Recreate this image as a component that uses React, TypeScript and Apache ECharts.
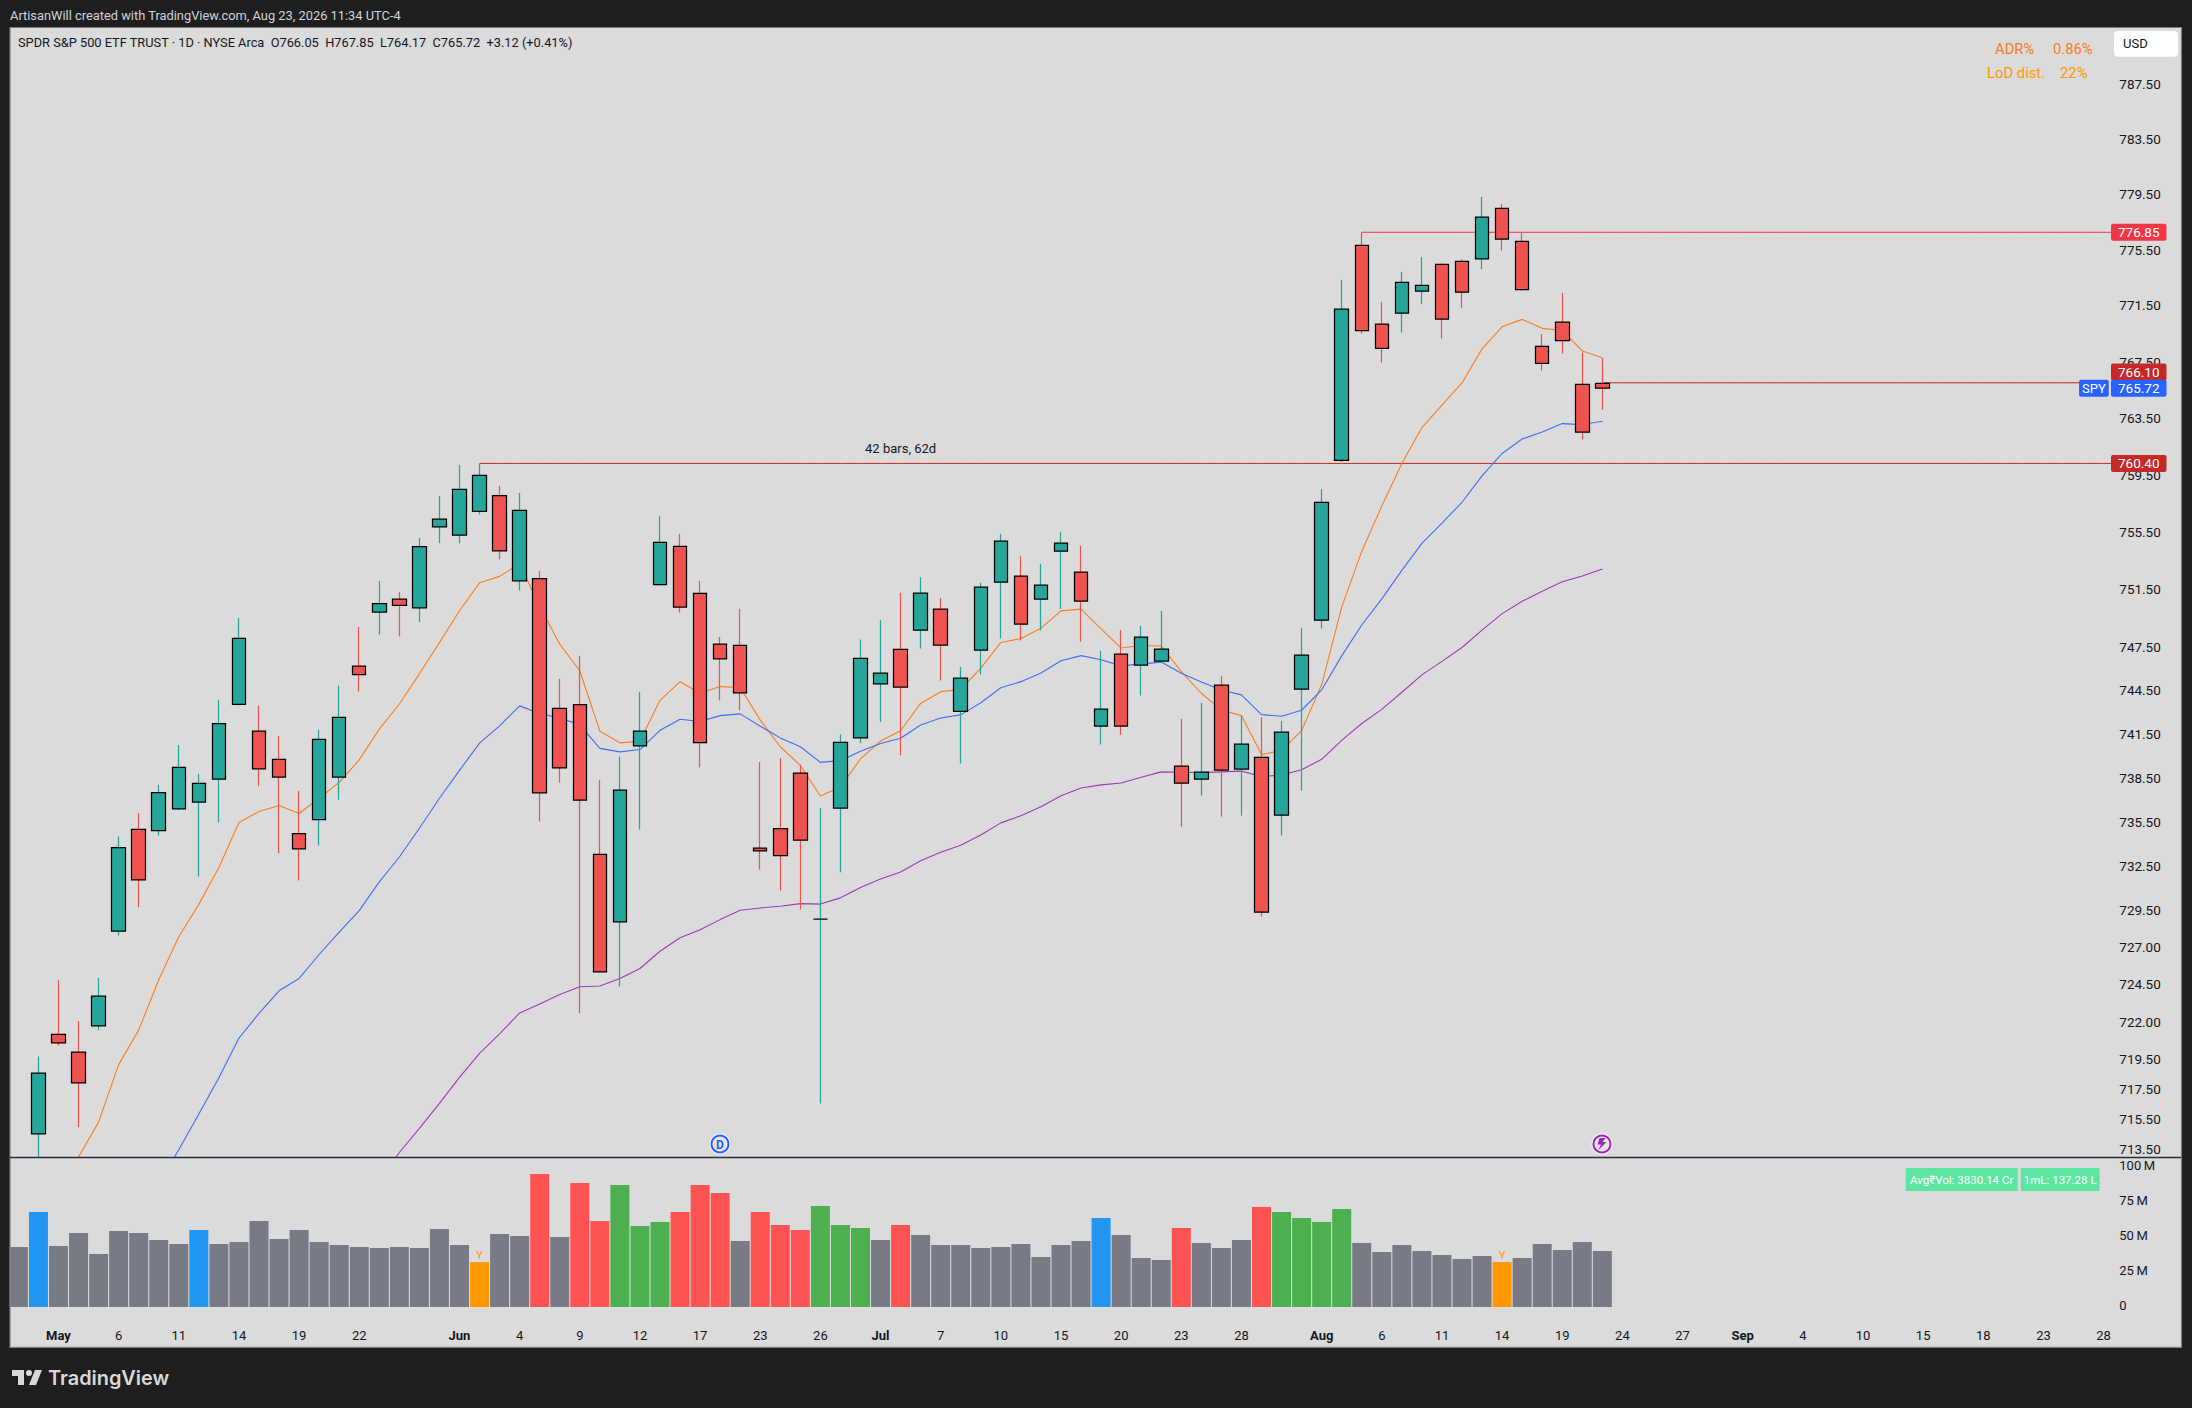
import React, { useEffect, useRef } from "react";
import * as echarts from "echarts";

const sessions = [
  "Apr 29","Apr 30","May 1","May 4","May 5","May 6","May 7","May 8","May 11","May 12","May 13","May 14","May 15","May 18","May 19","May 20","May 21","May 22","May 26","May 27","May 28","May 29",
  "Jun 1","Jun 2","Jun 3","Jun 4","Jun 5","Jun 8","Jun 9","Jun 10","Jun 11","Jun 12","Jun 15","Jun 16","Jun 17","Jun 18","Jun 22","Jun 23","Jun 24","Jun 25","Jun 26","Jun 29","Jun 30",
  "Jul 1","Jul 2","Jul 6","Jul 7","Jul 8","Jul 9","Jul 10","Jul 13","Jul 14","Jul 15","Jul 16","Jul 17","Jul 20","Jul 21","Jul 22","Jul 23","Jul 24","Jul 27","Jul 28","Jul 29","Jul 30","Jul 31",
  "Aug 3","Aug 4","Aug 5","Aug 6","Aug 7","Aug 10","Aug 11","Aug 12","Aug 13","Aug 14","Aug 17","Aug 18","Aug 19","Aug 20","Aug 21","Aug 24","Aug 25","Aug 26","Aug 27","Aug 28","Aug 31",
  "Sep 1","Sep 2","Sep 3","Sep 4","Sep 8","Sep 9","Sep 10","Sep 11","Sep 14","Sep 15","Sep 16","Sep 17","Sep 18","Sep 21","Sep 22","Sep 23","Sep 24","Sep 25","Sep 28","Sep 29","Sep 30","Oct 1",
];

const xTicks: Record<string, string> = {
  "May 1":"May","May 6":"6","May 11":"11","May 14":"14","May 19":"19","May 22":"22","Jun 1":"Jun","Jun 4":"4","Jun 9":"9","Jun 12":"12","Jun 17":"17","Jun 23":"23","Jun 26":"26",
  "Jul 1":"Jul","Jul 7":"7","Jul 10":"10","Jul 15":"15","Jul 20":"20","Jul 23":"23","Jul 28":"28","Aug 3":"Aug","Aug 6":"6","Aug 11":"11","Aug 14":"14","Aug 19":"19","Aug 24":"24","Aug 27":"27",
  "Sep 1":"Sep","Sep 4":"4","Sep 10":"10","Sep 15":"15","Sep 18":"18","Sep 23":"23","Sep 28":"28",
};
const monthTicks = ["May", "Jun", "Jul", "Aug", "Sep"];

const opens = [709.5,714.63,721.24,720.06,721.82,728.17,735.07,734.98,736.47,736.93,738.49,743.62,741.78,739.84,734.78,735.73,738.63,746.26,750.01,750.90,750.30,755.94,755.37,757.04,758.14,752.18,752.34,743.34,743.61,733.36,728.80,740.78,751.91,754.58,751.31,747.78,747.69,733.79,735.12,738.91,728.98,736.52,741.32,745.04,747.42,748.75,750.21,743.15,747.37,752.09,752.50,750.90,754.25,752.79,742.13,747.09,746.33,746.61,739.38,738.49,744.95,739.18,739.99,736.03,744.67,749.44,760.61,775.90,770.27,771.05,772.62,774.54,774.76,774.94,778.58,776.20,768.68,770.41,765.99,766.05];
const closes = [710.5,718.66,720.67,718.02,723.80,733.83,731.63,737.58,739.29,738.20,742.30,748.19,739.19,738.63,733.74,741.22,742.73,745.67,750.60,750.47,754.57,756.48,758.58,759.56,754.27,757.10,737.56,739.26,737.06,725.43,737.74,741.78,754.86,750.35,740.99,746.77,744.42,733.61,733.28,734.33,728.98,741.01,746.80,745.78,744.82,751.32,747.71,745.43,751.74,754.95,749.17,751.88,754.81,750.76,743.29,742.13,748.27,747.44,738.22,738.97,739.11,740.89,729.45,741.72,747.02,757.67,771.34,769.81,768.54,773.26,773.04,770.63,772.55,777.94,776.36,772.73,767.47,769.10,762.60,765.72];
const highs = [711,719.77,724.90,722.14,725.02,734.58,736.18,738.11,740.83,738.86,743.94,749.60,743.52,741.45,737.68,741.88,744.91,748.97,752.17,751.40,755.17,758.11,760.30,760.40,758.83,758.33,752.87,745.38,746.98,738.44,740.03,744.48,756.70,755.46,752.18,748.28,750.23,739.67,739.94,739.49,736.52,741.56,748.10,749.45,751.35,752.43,750.99,746.21,752.04,755.46,753.92,753.36,755.60,754.62,747.32,748.77,749.05,750.09,742.63,743.72,745.59,742.83,742.72,742.49,748.91,758.61,773.44,776.85,771.86,774.01,775.08,774.61,774.90,779.40,778.90,776.85,769.56,772.51,768.25,767.85];
const lows = [709,713.1,720.51,715.07,721.53,727.88,729.78,734.65,736.40,731.86,735.53,743.55,738.01,733.45,731.60,733.97,737.09,744.51,748.45,748.32,749.31,754.80,754.80,756.82,753.68,751.50,735.61,738.25,722.65,725.40,724.45,735.06,751.88,749.98,739.30,743.90,743.22,732.34,730.91,729.64,716.64,732.15,740.95,742.42,740.13,747.48,745.27,739.56,745.68,748.17,748.03,748.73,750.23,747.95,740.87,741.53,744.23,746.55,735.26,737.37,735.94,736.00,729.16,734.65,737.71,748.86,760.50,769.59,767.54,769.67,771.69,769.25,771.41,774.19,775.54,772.62,766.98,768.18,762.08,764.17];

const emaOrange = [null,null,711.3,713.1,715.41,719.23,721.53,724.90,727.79,729.98,732.47,735.53,736.28,736.70,736.15,737.19,738.27,739.81,741.92,743.65,745.73,747.89,750.10,752.04,752.49,753.37,750.41,747.78,745.94,741.78,740.98,741.10,743.90,745.19,744.39,744.85,744.79,742.54,740.71,739.43,737.34,737.96,739.88,741.10,741.81,743.69,744.50,744.64,746.12,747.90,748.17,748.89,750.09,750.21,748.84,747.51,747.69,747.65,745.89,744.39,743.24,742.85,740.18,740.45,741.82,744.97,750.35,754.23,757.41,760.40,762.93,764.51,766.09,768.51,770.08,770.61,769.97,769.82,768.36,767.87];
const emaBlue = [null,null,null,null,null,null,null,711.4,713.58,715.95,718.35,721.0,722.65,724.16,724.99,726.60,728.11,729.56,731.50,733.19,735.14,737.19,739.09,740.96,742.15,743.52,743.0,742.69,742.23,740.60,740.36,740.52,741.84,742.60,742.45,742.85,742.97,742.12,741.32,740.71,739.64,739.76,740.41,740.93,741.30,742.21,742.69,742.90,743.74,744.77,745.19,745.79,746.63,746.99,746.70,746.28,746.42,746.54,745.77,745.17,744.62,744.28,742.92,742.81,743.22,744.62,746.97,749.11,750.92,752.91,754.79,756.21,757.67,759.52,761.10,762.12,762.61,763.21,763.14,763.38];
const smaPurple = [null,null,null,null,null,null,null,null,null,null,null,null,null,null,null,null,null,null,711.5,713.4,715.0,716.65,718.38,719.98,721.28,722.68,723.28,723.92,724.43,724.48,724.99,725.66,726.82,727.73,728.26,728.95,729.58,729.74,729.85,730.03,730.0,730.42,731.12,731.70,732.17,732.94,733.51,733.99,734.69,735.51,736.0,736.61,737.36,737.89,738.10,738.23,738.62,738.99,738.97,738.94,738.99,739.04,738.67,738.78,739.13,739.85,741.15,742.31,743.28,744.46,745.66,746.59,747.55,748.75,749.90,750.76,751.45,752.11,752.52,753.01];

const volumes = [42.9,67.9,43.6,52.9,37.9,54.3,52.9,47.9,45,55,45,46.4,61.4,48.6,55,46.4,44.3,42.9,42.1,42.9,42.1,55.7,44.3,32.1,52.1,50.7,95,50,88.6,61.4,87.1,57.9,60.7,67.9,87.1,81.4,47.1,67.9,58.6,55,72.1,58.6,56.4,47.9,58.6,51.4,44.3,44.3,42.1,42.9,45,35.7,44.3,47.1,63.6,51.4,35,33.6,56.4,45.7,42.1,47.9,71.4,67.9,63.6,60.7,70,45.7,39.3,44.3,40,37.1,34.3,36.4,32.1,35,45,40.7,46.4,40];
const volumeKinds = "g b ggggggg b ggggggggggggg o gg r g rr GGG rrr g rrr GGG g r ggggggggg b ggg r ggg r GGGG ggggggg o ggggg".split(" ").join("");

const priceTicks = [787.5,783.5,779.5,775.5,771.5,767.5,763.5,759.5,755.5,751.5,747.5,744.5,741.5,738.5,735.5,732.5,729.5,727,724.5,722,719.5,717.5,715.5,713.5];
const volumeTicks = [0, 25, 50, 75, 100];

const priceLevels = [
  { price: 776.85, from: 67, to: 105, color: "#f23645" },
  { price: 760.4, from: 23, to: 105, color: "#c62828" },
  { price: 766.1, from: 79, to: 103, color: "#c62828" },
];
const priceTags = [
  { price: 776.85, text: "776.85", color: "#f23645", dy: 0 },
  { price: 766.1, text: "766.10", color: "#c62828", dy: -10.7 },
  { price: 765.72, text: "765.72", color: "#2962ff", dy: 0 },
  { price: 760.4, text: "760.40", color: "#c62828", dy: 0 },
];

const kindColor: Record<string, string> = { g: "#787b86", b: "#2196f3", r: "#ff5252", G: "#4caf50", o: "#ff9800" };

const logoPath = "M14 6H2v6h6v9h6V6Zm12 15h-7l6-15h7l-6 15Zm-7-9a3 3 0 1 0 0-6 3 3 0 0 0 0 6Z";
const boltPath = "M2 0 L8 0 L5 4 L9 4 L1 12 L3.5 6.5 L0 6.5 Z";
const FONT = "Roboto, sans-serif";

echarts.graphic.registerShape("tvlogo", echarts.graphic.extendPath(logoPath as any, {}) as any);
echarts.graphic.registerShape("bolt", echarts.graphic.extendPath(boltPath as any, {}) as any);

function txt(text: string, x: number, y: number, fill: string, font: string, align = "left") {
  return { type: "text", z: 50, silent: true, style: { text, x, y, fill, font, textAlign: align, textVerticalAlign: "middle" } };
}

export default function App() {
  const ref = useRef<HTMLDivElement>(null);
  useEffect(() => {
    document.body.style.margin = "0";
    const chart = echarts.init(ref.current!, undefined, { renderer: "svg" });
    const candles = opens.map((o, i) => [o, closes[i], lows[i], highs[i]]);
    const bodies = opens.map((o, i) => [o, closes[i], Math.min(o, closes[i]), Math.max(o, closes[i])]);
    const levelSeries = priceLevels.map((l) => ({
      type: "line", xAxisIndex: 0, yAxisIndex: 0, z: 1, showSymbol: false, silent: true,
      lineStyle: { color: l.color, width: 1 },
      data: sessions.map((_, i) => (i >= l.from && i <= l.to ? l.price : null)),
    }));
    const maSeries = [
      [emaOrange, "#f97d1f"],
      [emaBlue, "#3f6ff5"],
      [smaPurple, "#9c3db5"],
    ].map(([d, c]) => ({
      type: "line", xAxisIndex: 0, yAxisIndex: 0, z: 1, showSymbol: false, silent: true,
      lineStyle: { color: c, width: 1.1 }, data: d,
    }));
    chart.setOption({
      animation: false,
      backgroundColor: "#1e1e1e",
      textStyle: { fontFamily: FONT },
      grid: [
        { left: 8.375, top: 27.5, height: 1130, width: 2165.4 },
        { left: 8.375, top: 1157.5, height: 189.5, width: 2165.4 },
      ],
      xAxis: [
        { type: "category", gridIndex: 0, data: sessions, show: false },
        {
          type: "category", gridIndex: 1, data: sessions,
          axisLine: { show: false }, axisTick: { show: false }, splitLine: { show: false },
          axisLabel: {
            inside: true, margin: 5, interval: 0, color: "#131722", fontSize: 13, fontFamily: FONT,
            formatter: (v: string) => {
              const t = xTicks[v];
              if (!t) return "";
              return monthTicks.includes(t) ? `{b|${t}}` : t;
            },
            rich: { b: { fontWeight: "bold", fontSize: 13, color: "#131722", fontFamily: FONT } },
          },
        },
      ],
      yAxis: [
        {
          type: "log", logBase: 10, gridIndex: 0, position: "right", min: 713.07, max: 791.72, scale: true,
          axisLine: { show: false }, axisTick: { show: false }, splitLine: { show: false }, minorTick: { show: false }, minorSplitLine: { show: false },
          axisLabel: { show: false },
        },
        {
          type: "value", gridIndex: 1, position: "right", min: -28.57, max: 106.79,
          axisLine: { show: false }, axisTick: { show: false }, splitLine: { show: false },
          axisLabel: { show: false },
        },
      ],
      series: [
        ...levelSeries,
        ...maSeries,
        {
          type: "candlestick", xAxisIndex: 0, yAxisIndex: 0, z: 2, barWidth: 1, silent: true,
          itemStyle: { color: "#26a69a", color0: "#ef5350", borderColor: "#26a69a", borderColor0: "#ef5350", borderColorDoji: "#26a69a", borderWidth: 1.25 },
          data: candles,
        },
        {
          type: "candlestick", xAxisIndex: 0, yAxisIndex: 0, z: 3, barWidth: 14, silent: true,
          itemStyle: { color: "#26a69a", color0: "#ef5350", borderColor: "#000000", borderColor0: "#000000", borderColorDoji: "#000000", borderWidth: 1.25 },
          data: bodies,
        },
        {
          type: "bar", xAxisIndex: 1, yAxisIndex: 1, barWidth: 19, silent: true,
          data: volumes.map((v, i) => {
            const k = volumeKinds[i];
            return {
              value: v,
              itemStyle: { color: kindColor[k] },
              label: k === "o" ? { show: true, position: "top", distance: 1, formatter: "Y", color: "#ff9800", fontSize: 11, fontFamily: FONT } : { show: false },
            };
          }),
        },
        {
          type: "scatter", xAxisIndex: 0, yAxisIndex: 0, z: 8, symbolSize: 0, silent: true, itemStyle: { opacity: 1 },
          data: priceTicks.map((p) => ({
            value: [104, p],
            label: { show: true, position: "right", distance: 0, offset: [15.7, -1.5], formatter: p.toFixed(2), color: "#131722", fontSize: 13.5, fontFamily: FONT },
          })),
        },
        {
          type: "scatter", xAxisIndex: 1, yAxisIndex: 1, z: 8, symbolSize: 0, silent: true, itemStyle: { opacity: 1 },
          data: volumeTicks.map((v) => ({
            value: [104, v],
            label: { show: true, position: "right", distance: 0, offset: [15.7, -1.7], formatter: v === 0 ? "0" : `${v}\u2009M`, color: "#131722", fontSize: 13, fontFamily: FONT },
          })),
        },
        {
          type: "scatter", xAxisIndex: 0, yAxisIndex: 0, z: 12, symbolSize: 0, silent: true, itemStyle: { opacity: 1 },
          data: [
            ...priceTags.map((t) => ({
              value: [104, t.price],
              label: { show: true, position: "right", distance: 0, offset: [7.4, t.dy], formatter: t.text, color: "#ffffff", opacity: 1, fontSize: 13.5, fontFamily: FONT, backgroundColor: t.color, padding: [2, 7, 2, 7], lineHeight: 13, borderRadius: 2 },
            })),
            {
              value: [103, 765.72],
              label: { show: true, position: "right", distance: 0, offset: [-4.5, 0], formatter: "SPY", color: "#ffffff", opacity: 1, fontSize: 13, fontFamily: FONT, backgroundColor: "#2962ff", padding: [2, 3, 2, 3], lineHeight: 13, borderRadius: 2 },
            },
            {
              value: [44, 760.4],
              label: { show: true, position: "top", distance: 8, formatter: "42 bars, 62d", color: "#131722", fontSize: 13, fontFamily: FONT },
            },
          ],
        },
      ],
      graphic: [
        { type: "rect", z: -1, silent: true, shape: { x: 10, y: 27.5, width: 2171.5, height: 1319.8 }, style: { fill: "#dbdbdb" } },
        { type: "rect", z: 40, silent: true, shape: { x: 0, y: 20, width: 9.5, height: 1340 }, style: { fill: "#1e1e1e" } },
        { type: "rect", z: 41, silent: true, shape: { x: 10, y: 27.5, width: 2171.5, height: 1319.8 }, style: { fill: "none", stroke: "#7f7f7f", lineWidth: 1.2 } },
        { type: "line", z: 41, silent: true, shape: { x1: 10, y1: 1157.5, x2: 2181, y2: 1157.5 }, style: { stroke: "#2a2e39", lineWidth: 1.5 } },
        txt("ArtisanWill created with TradingView.com, Aug 23, 2026 11:34 UTC-4", 10, 15.7, "#d1d4dc", `12.85px ${FONT}`),
        txt("SPDR S&P 500 ETF TRUST · 1D · NYSE Arca  O766.05  H767.85  L764.17  C765.72  +3.12 (+0.41%)", 18, 42.7, "#131722", `12.8px ${FONT}`),
        txt("ADR%", 1995, 49, "#f57c1f", `14.8px ${FONT}`),
        txt("0.86%", 2053, 49, "#f57c1f", `14.8px ${FONT}`),
        txt("LoD dist.", 1987, 73, "#ff9800", `14.8px ${FONT}`),
        txt("22%", 2060, 73, "#ff9800", `14.8px ${FONT}`),
        { type: "rect", z: 45, silent: true, shape: { x: 2114, y: 31, width: 64, height: 25.7, r: 4 }, style: { fill: "#ffffff" } },
        txt("USD", 2123, 43.7, "#131722", `13px ${FONT}`),
        { type: "rect", z: 45, silent: true, shape: { x: 1905.7, y: 1168, width: 112, height: 23 }, style: { fill: "#5ce6a1" } },
        { type: "rect", z: 45, silent: true, shape: { x: 2020.8, y: 1168, width: 78.8, height: 23 }, style: { fill: "#5ce6a1" } },
        txt("Avg₹Vol: 3830.14 Cr", 1961.7, 1179.5, "#ffffff", `11.5px ${FONT}`, "center"),
        txt("1mL: 137.28 L", 2060.2, 1179.5, "#ffffff", `11.5px ${FONT}`, "center"),
        { type: "circle", z: 45, silent: true, shape: { cx: 720, cy: 1144, r: 10.5 }, style: { fill: "#ffffff" } },
        { type: "circle", z: 46, silent: true, shape: { cx: 720, cy: 1144, r: 8.5 }, style: { fill: "#e6e6e6", stroke: "#2962ff", lineWidth: 2 } },
        txt("D", 720, 1144.5, "#2962ff", `bold 12px ${FONT}`, "center"),
        { type: "circle", z: 45, silent: true, shape: { cx: 1602, cy: 1144, r: 10.5 }, style: { fill: "#ffffff" } },
        { type: "circle", z: 46, silent: true, shape: { cx: 1602, cy: 1144, r: 8.5 }, style: { fill: "#e6e6e6", stroke: "#9c27b0", lineWidth: 2 } },
        { type: "bolt", z: 47, silent: true, x: 1597.5, y: 1138, style: { fill: "#9c27b0" } },
        { type: "tvlogo", z: 47, silent: true, x: 10, y: 1364, style: { fill: "#d9d9d9" } },
        txt("TradingView", 48, 1378, "#d9d9d9", `600 19.9px Inter, ${FONT}`),
      ],
    });
    return () => chart.dispose();
  }, []);
  return <div ref={ref} style={{ position: "absolute", left: 0, top: 0, width: 2192, height: 1408 }} />;
}
